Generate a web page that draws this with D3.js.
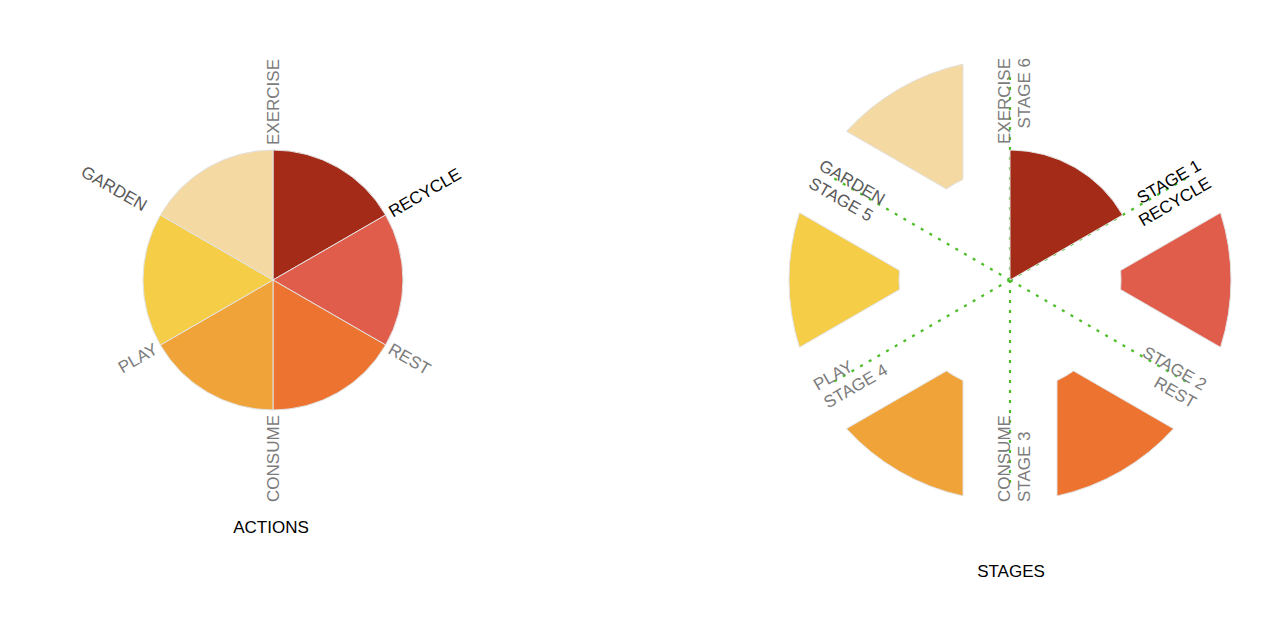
<!DOCTYPE html>
<html>
<head>
<meta charset="utf-8">
<script src="https://cdn.jsdelivr.net/npm/d3@7"></script>
<style>
  body { margin: 0; background: #fff; }
  text { font-family: "Liberation Sans", Arial, Helvetica, sans-serif; }
</style>
</head>
<body>
<div id="holder"></div>
<script>
const w = 1280;
const h = 632;

// data
const actions = ["RECYCLE", "REST", "CONSUME", "PLAY", "GARDEN", "EXERCISE"];
const stages = ["STAGE 1", "STAGE 2", "STAGE 3", "STAGE 4", "STAGE 5", "STAGE 6"];
const shares = [1, 1, 1, 1, 1, 1];
const colors = ["#a42b18", "#e05c4b", "#ed7330", "#f0a339", "#f5cd46", "#f5d9a3"];
const activeAction = "RECYCLE";
const darkAction = "GARDEN";
const titles = ["ACTIONS", "STAGES"];

const svg = d3.select("#holder")
    .append("svg")
    .attr("width", w)
    .attr("height", h)

const pie = d3.pie().sort(null).value(d => d.value)
const slices = pie(actions.map((a, i) => ({ action: a, stage: stages[i], value: shares[i], color: colors[i] })))

// label angle in whole degrees (end of slice)
const deg = (d) => Math.round(d.endAngle * 180 / Math.PI)
const turned = (d) => deg(d) % 360 >= 180
const labelColor = (d) => d.data.action === activeAction ? "#000" : (d.data.action === darkAction ? "#5a5a5a" : "#7c7c7c")

// ---------- left: actions pie ----------
const r = 130;
const left = svg.append("g").attr("transform", "translate(273,280)")

const arcLeft = d3.arc().innerRadius(0).outerRadius(r)

left.selectAll("path")
    .data(slices)
    .join("path")
    .attr("d", arcLeft)
    .attr("fill", d => d.data.color)
    .attr("stroke", "#e2e2e2")
    .attr("stroke-width", 1)

left.selectAll("text.label")
    .data(slices)
    .join("text")
    .attr("class", "label")
    .attr("transform", d => {
        const off = d.data.action === darkAction ? 17 : 5
        return `rotate(${deg(d) % 360 - 90}) translate(${r + off},0)` + (turned(d) ? " rotate(180)" : "")
    })
    .attr("text-anchor", d => turned(d) ? "end" : "start")
    .attr("dy", "0.35em")
    .attr("font-size", 17)
    .attr("fill", labelColor)
    .text(d => d.data.action)

left.append("text")
    .attr("x", -2)
    .attr("y", 253)
    .attr("text-anchor", "middle")
    .attr("font-size", 17)
    .attr("fill", "#000")
    .text(titles[0])

// ---------- right: stages ----------
const R = 221;
const right = svg.append("g").attr("transform", "translate(1010,280)")

// dotted guide lines at slice edges
right.selectAll("line")
    .data(slices)
    .join("line")
    .attr("x1", 0)
    .attr("y1", 0)
    .attr("x2", d => 210 * Math.sin(d.endAngle))
    .attr("y2", d => -210 * Math.cos(d.endAngle))
    .attr("stroke", "#4dbd2a")
    .attr("stroke-width", 2.2)
    .attr("stroke-dasharray", "3,7")

const arcOuter = d3.arc()
    .innerRadius(111)
    .outerRadius(R)
    .padRadius(100)
    .padAngle(2 * Math.asin(0.47))

const arcActive = d3.arc().innerRadius(0).outerRadius(r)

right.selectAll("path")
    .data(slices)
    .join("path")
    .attr("d", d => d.data.action === activeAction ? arcActive(d) : arcOuter(d))
    .attr("fill", d => d.data.color)
    .attr("stroke", "#e2e2e2")
    .attr("stroke-width", 1)

const rightLabels = right.selectAll("g.label")
    .data(slices)
    .join("g")
    .attr("class", "label")
    .attr("transform", d => `rotate(${deg(d) % 360 - 90}) translate(${R + 1},0)` + (turned(d) ? " rotate(180)" : ""))
    .attr("text-anchor", d => turned(d) ? "start" : "end")
    .attr("font-size", 17)
    .attr("fill", labelColor)

rightLabels.each(function (d) {
    const actionFirst = deg(d) >= 180
    const lines = actionFirst ? [d.data.action, d.data.stage] : [d.data.stage, d.data.action]
    d3.select(this).selectAll("text")
        .data(lines)
        .join("text")
        .attr("dy", (t, i) => i === 0 ? "0em" : "1.2em")
        .text(t => t)
})

right.append("text")
    .attr("x", 1)
    .attr("y", 297)
    .attr("text-anchor", "middle")
    .attr("font-size", 17)
    .attr("fill", "#000")
    .text(titles[1])
</script>
</body>
</html>
